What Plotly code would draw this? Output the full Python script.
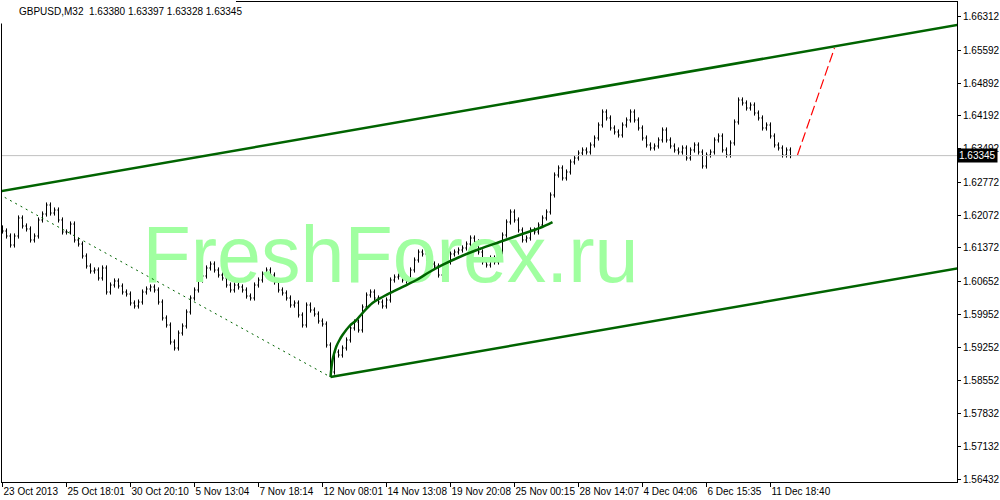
import plotly.graph_objects as go

# ---------------- data ----------------
chart_title = "GBPUSD,M32  1.63380 1.63397 1.63328 1.63345"

# closes of the bars (one every 2 index units)
closes = [
    1.61735, 1.61628, 1.61436, 1.61628, 1.62013, 1.61842, 1.61778, 1.61543, 1.61628, 1.61970,
    1.62098, 1.62290, 1.62119, 1.62183, 1.61970, 1.61714, 1.61714, 1.61884, 1.61543, 1.61457,
    1.61201, 1.60987, 1.60880, 1.60902, 1.60731, 1.60945, 1.60432, 1.60581, 1.60667, 1.60560,
    1.60432, 1.60389, 1.60197, 1.60133, 1.60218, 1.60432, 1.60496, 1.60539, 1.60475, 1.60218,
    1.59877, 1.59727, 1.59364, 1.59236, 1.59556, 1.59706, 1.60005, 1.60304, 1.60475, 1.60688,
    1.60774, 1.60945, 1.61030, 1.60902, 1.60795, 1.60731, 1.60581, 1.60475, 1.60581, 1.60539,
    1.60475, 1.60346, 1.60304, 1.60581, 1.60688, 1.60816, 1.60902, 1.60795, 1.60645, 1.60475,
    1.60411, 1.60304, 1.60154, 1.60197, 1.59941, 1.59727, 1.60154, 1.60047, 1.59962, 1.59812,
    1.59748, 1.59300, 1.58723, 1.59150, 1.59086, 1.59236, 1.59407, 1.59663, 1.59791, 1.59620,
    1.60112, 1.60368, 1.60432, 1.60304, 1.60218, 1.60133, 1.60261, 1.60688, 1.60752, 1.60774,
    1.60688, 1.60667, 1.60902, 1.61115, 1.61286, 1.61244, 1.61158, 1.61030, 1.60987, 1.60795,
    1.61009, 1.61073, 1.61244, 1.61286, 1.61329, 1.61372, 1.61457, 1.61585, 1.61500, 1.61286,
    1.61073, 1.61009, 1.61158, 1.61073, 1.61286, 1.61649, 1.61927, 1.62141, 1.61970, 1.61756,
    1.61543, 1.61585, 1.61756, 1.61714, 1.61863, 1.62013, 1.62141, 1.62504, 1.62931, 1.63081,
    1.62867, 1.62995, 1.63209, 1.63294, 1.63401, 1.63465, 1.63422, 1.63572, 1.63721, 1.63999,
    1.64277, 1.64149, 1.63935, 1.63850, 1.63785, 1.63999, 1.64106, 1.64277, 1.64106, 1.63935,
    1.63721, 1.63572, 1.63508, 1.63550, 1.63679, 1.63892, 1.63679, 1.63550, 1.63465, 1.63422,
    1.63508, 1.63294, 1.63465, 1.63572, 1.63422, 1.63123, 1.63358, 1.63422, 1.63679, 1.63764,
    1.63465, 1.63358, 1.63615, 1.64063, 1.64533, 1.64469, 1.64362, 1.64426, 1.64255, 1.64149,
    1.63935, 1.63999, 1.63764, 1.63572, 1.63508, 1.63358, 1.63465, 1.63345,
]
first_open = 1.61800
bar_step = 2          # index units between drawn bars
wick = 0.00055        # extra range drawn above/below each bar body

x_tick_index = [0, 32, 64, 96, 128, 160, 192, 224, 256, 288, 320, 352, 384]
x_tick_text = ["23 Oct 2013", "25 Oct 18:01", "30 Oct 20:10", "5 Nov 13:04", "7 Nov 18:14",
               "12 Nov 08:01", "14 Nov 13:08", "19 Nov 20:08", "25 Nov 00:15", "28 Nov 14:07",
               "4 Dec 04:06", "6 Dec 15:35", "11 Dec 18:40"]
y_tick_vals = [1.66312, 1.65592, 1.64892, 1.64192, 1.63492, 1.62772, 1.62072, 1.61372,
               1.60652, 1.59952, 1.59252, 1.58552, 1.57832, 1.57132, 1.56432]
last_price = 1.63345

# drawing objects (bar index, price)
upper_channel_idx = [-1.5, 477.5]
upper_channel_price = [1.62579, 1.66135]
lower_channel_idx = [164, 477.5]
lower_channel_price = [1.58616, 1.60934]
dotted_line_idx = [-1.5, 164]
dotted_line_price = [1.62514, 1.58616]
arc_idx = [164, 165, 166, 167, 168.5, 170, 173.5, 177, 180, 185, 190, 197, 202, 207,
           213.5, 220, 228.5, 238.5, 248.5, 258.5, 268.5, 275]
arc_price = [1.58616, 1.58979, 1.59150, 1.59278, 1.59407, 1.59513, 1.59706, 1.59834,
             1.59983, 1.60197, 1.60325, 1.60475, 1.60581, 1.60688, 1.60859, 1.61009,
             1.61180, 1.61350, 1.61500, 1.61649, 1.61799, 1.61927]
forecast_idx = [397.5, 416]
forecast_price = [1.63358, 1.65644]

x_range = [-0.25, 477.25]
y_range = [1.56374, 1.66626]

# --------------- build bars ---------------
bar_x = [i * bar_step for i in range(len(closes))]
opens = [first_open] + closes[:-1]
highs = [max(o, c) + wick for o, c in zip(opens, closes)]
lows = [min(o, c) - wick for o, c in zip(opens, closes)]

GREEN = "rgb(0,100,0)"
FONT = "Liberation Sans, Arial, sans-serif"

fig = go.Figure()

# watermark (behind everything)
fig.add_trace(go.Scatter(
    x=[194], y=[1.61073], mode="text", text=["FreshForex.ru"],
    textfont=dict(family=FONT, size=79, color="rgb(160,255,160)"),
    textposition="middle center", hoverinfo="skip", showlegend=False))

fig.add_trace(go.Scatter(
    x=[x_range[0], x_range[1]], y=[last_price, last_price], mode="lines",
    line=dict(color="rgb(192,192,192)", width=1), hoverinfo="skip", showlegend=False))

fig.add_trace(go.Ohlc(
    x=bar_x, open=opens, high=highs, low=lows, close=closes,
    increasing_line_color="black", decreasing_line_color="black",
    line_width=1, tickwidth=0.3, showlegend=False))

fig.add_trace(go.Scatter(x=dotted_line_idx, y=dotted_line_price, mode="lines",
                         line=dict(color=GREEN, width=1, dash="2px,4px"), showlegend=False))
fig.add_trace(go.Scatter(x=upper_channel_idx, y=upper_channel_price, mode="lines",
                         line=dict(color=GREEN, width=2.5), showlegend=False))
fig.add_trace(go.Scatter(x=lower_channel_idx, y=lower_channel_price, mode="lines",
                         line=dict(color=GREEN, width=2.5), showlegend=False))
fig.add_trace(go.Scatter(x=arc_idx, y=arc_price, mode="lines", line_shape="spline",
                         line=dict(color=GREEN, width=2.5), showlegend=False))
fig.add_trace(go.Scatter(x=forecast_idx, y=forecast_price, mode="lines",
                         line=dict(color="red", width=1.2, dash="10px,4px"), showlegend=False))

fig.update_layout(
    width=1000, height=500,
    margin=dict(l=2, r=43, t=2, b=18),
    paper_bgcolor="white", plot_bgcolor="white",
    showlegend=False,
    font=dict(family=FONT, size=10, color="black"),
    xaxis=dict(range=x_range, rangeslider=dict(visible=False), automargin=False,
               tickmode="array", tickvals=x_tick_index, ticktext=x_tick_text,
               tickangle=0,
               ticks="outside", ticklen=4, tickcolor="black",
               ticklabelposition="outside right",
               showgrid=False, zeroline=False,
               showline=True, linecolor="black", linewidth=1, mirror=True,
               tickfont=dict(family=FONT, size=10, color="black")),
    yaxis=dict(range=y_range, side="right", automargin=False,
               tickmode="array", tickvals=y_tick_vals,
               ticktext=[f"{v:.5f}" for v in y_tick_vals],
               ticks="outside", ticklen=3, tickcolor="black",
               showgrid=False, zeroline=False,
               showline=True, linecolor="black", linewidth=1, mirror=True,
               tickfont=dict(family=FONT, size=10, color="black")),
)

# title box covering the frame at top-left
fig.add_shape(type="rect", xref="paper", yref="paper",
              x0=-0.01, x1=0.245, y0=0.955, y1=1.01,
              fillcolor="white", line=dict(width=0), layer="above")
fig.add_annotation(xref="paper", yref="paper", x=0.016, y=0.98, xanchor="left", yanchor="middle",
                   text=chart_title, showarrow=False,
                   font=dict(family=FONT, size=10, color="black"))

# current price label on the price axis
fig.add_annotation(xref="paper", yref="y", x=1.0, y=last_price, xanchor="left", yanchor="middle",
                   text=f"{last_price:.5f}", showarrow=False, bgcolor="black",
                   font=dict(family=FONT, size=10, color="white"), borderpad=1)

fig.write_html("out.html", config={"displayModeBar": False},
               post_script="document.body.style.margin='0';document.body.style.overflow='hidden';")
